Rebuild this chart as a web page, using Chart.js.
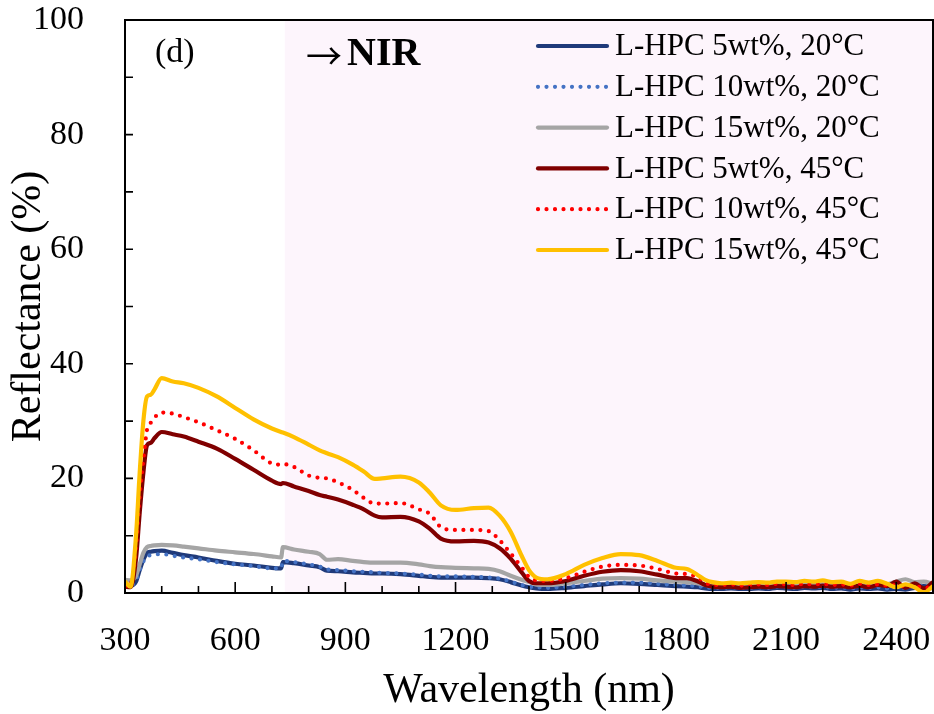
<!DOCTYPE html>
<html>
<head>
<meta charset="utf-8">
<script src="https://cdn.jsdelivr.net/npm/chart.js@4.4.1/dist/chart.umd.min.js"></script>
<style>
  body { margin: 0; background: #fff; }
  #wrap { width: 934px; height: 714px; }
</style>
</head>
<body>
<div id="wrap"><canvas id="reflChart" width="934" height="714"></canvas></div>
<script>
// wavelength grid (nm)
const wavelengths = [
  300, 315, 330, 340, 350, 360, 370, 380, 400, 430, 460, 500, 550, 600, 650, 700,
  725, 730, 760, 800, 830, 850, 880, 920, 950, 980, 1000, 1050, 1100, 1130, 1160, 1200,
  1250, 1290, 1320, 1350, 1380, 1400, 1420, 1450, 1500, 1550, 1600, 1650, 1700, 1750, 1800,
  1830, 1860, 1880, 1900, 1925, 1950, 1975, 2000, 2025, 2050, 2075, 2100, 2125, 2150, 2175,
  2200, 2225, 2250, 2275, 2300, 2325, 2350, 2375, 2400, 2425, 2450, 2475, 2500
];

// reflectance (%)
const hpc5_20 = [
  1.1, 1.2, 2.0, 4.0, 5.8, 7.0, 7.2, 7.3, 7.4, 7.0, 6.6, 6.2, 5.6, 5.1, 4.8, 4.4,
  4.3, 5.4, 5.2, 4.8, 4.5, 3.9, 3.8, 3.6, 3.5, 3.4, 3.4, 3.3, 3.0, 2.8, 2.7, 2.7,
  2.7, 2.6, 2.4, 1.9, 1.3, 1.0, 0.8, 0.7, 0.9, 1.2, 1.5, 1.7, 1.6, 1.4, 1.2,
  1.1, 1.0, 0.8, 0.7, 0.7, 0.8, 0.7, 0.7, 0.8, 0.7, 0.9, 0.8, 0.7, 0.9, 0.8,
  0.9, 0.7, 0.8, 0.6, 0.8, 0.7, 0.8, 0.6, 0.7, 0.6, 0.9, 1.2, 0.8
];
const hpc10_20 = [
  1.2, 1.3, 2.2, 4.0, 5.5, 6.4, 6.6, 6.7, 6.8, 6.5, 6.2, 5.9, 5.4, 5.0, 4.7, 4.3,
  4.3, 5.6, 5.4, 5.0, 4.6, 4.1, 4.0, 3.8, 3.7, 3.6, 3.5, 3.4, 3.2, 3.0, 2.9, 2.9,
  2.8, 2.7, 2.5, 2.0, 1.4, 1.1, 1.0, 0.9, 1.1, 1.4, 1.7, 1.8, 1.8, 1.6, 1.4,
  1.3, 1.2, 1.0, 0.9, 0.9, 1.0, 0.9, 0.9, 1.0, 0.9, 1.1, 1.0, 0.9, 1.1, 1.0,
  1.1, 0.9, 1.0, 0.8, 1.0, 0.9, 1.0, 0.8, 1.2, 0.9, 1.3, 1.6, 1.1
];
const hpc15_20 = [
  2.3, 2.2, 3.0, 5.0, 7.0, 8.0, 8.2, 8.3, 8.4, 8.3, 8.1, 7.8, 7.4, 7.1, 6.8, 6.4,
  6.2, 8.0, 7.6, 7.2, 6.8, 5.8, 5.9, 5.6, 5.4, 5.3, 5.3, 5.3, 5.0, 4.7, 4.5, 4.4,
  4.3, 4.2, 3.8, 3.0, 2.3, 1.9, 1.5, 1.4, 1.7, 2.1, 2.5, 2.6, 2.5, 2.2, 2.0,
  1.9, 1.7, 1.4, 1.3, 1.3, 1.4, 1.3, 1.3, 1.4, 1.3, 1.5, 1.4, 1.3, 1.5, 1.4,
  1.5, 1.3, 1.4, 1.2, 1.4, 1.3, 1.4, 1.5, 2.0, 2.4, 1.9, 2.0, 1.6
];
const hpc5_45 = [
  1.1, 1.0, 6.0, 14.0, 21.0, 25.8, 26.2, 27.0, 28.1, 27.7, 27.3, 26.4, 25.2, 23.4, 21.5, 19.6,
  19.0, 19.2, 18.6, 17.8, 17.1, 16.8, 16.3, 15.4, 14.6, 13.5, 13.2, 13.3, 12.5, 11.2, 9.5, 9.0,
  9.1, 8.8, 7.8, 6.0, 3.6, 2.1, 1.7, 1.7, 2.1, 3.0, 3.7, 4.0, 3.8, 3.2, 2.6,
  2.6, 2.0, 1.4, 1.1, 1.0, 1.1, 0.9, 1.0, 1.1, 1.0, 1.2, 1.1, 1.0, 1.2, 1.1,
  1.3, 1.1, 1.2, 1.0, 1.3, 1.0, 1.4, 1.2, 2.0, 0.9, 1.7, 0.8, 1.9
];
const hpc10_45 = [
  1.1, 1.5, 8.0, 17.0, 23.2, 28.5, 29.7, 30.6, 31.5, 31.3, 30.7, 29.8, 28.4, 26.9, 24.9, 22.6,
  22.4, 22.5, 22.0, 20.5, 20.1, 20.0, 19.3, 18.0, 16.6, 15.6, 15.6, 15.7, 14.6, 13.8, 11.5, 11.0,
  11.0, 10.8, 9.2, 6.9, 4.5, 2.8, 2.2, 2.1, 2.6, 3.7, 4.6, 4.9, 4.8, 4.2, 3.4,
  3.3, 2.7, 1.8, 1.4, 1.4, 1.5, 1.3, 1.4, 1.5, 1.4, 1.6, 1.5, 1.4, 1.6, 1.5,
  1.6, 1.4, 1.5, 1.3, 1.6, 1.4, 1.5, 1.3, 1.4, 1.1, 1.2, 0.9, 1.0
];
const hpc15_45 = [
  2.0, 1.1, 10.0, 21.0, 30.0, 34.3, 34.6, 35.5, 37.5, 36.9, 36.6, 35.8, 34.3, 32.3, 30.3, 28.7,
  28.1, 28.0, 27.2, 25.9, 24.9, 24.4, 23.7, 22.4, 21.2, 19.9, 20.0, 20.3, 19.3, 17.5, 15.3, 14.5,
  14.8, 14.9, 13.5, 10.7, 6.5, 4.0, 2.7, 2.4, 3.3, 4.9, 6.1, 6.8, 6.6, 5.6, 4.4,
  4.2, 3.1, 2.3, 1.9, 1.7, 1.8, 1.7, 1.8, 1.9, 1.8, 2.0, 2.0, 1.9, 2.1, 2.0,
  2.2, 1.9, 2.0, 1.6, 2.1, 1.8, 2.1, 1.6, 1.0, 1.5, 1.0, 0.1, 1.2
];

const seriesLabels = [
  'L-HPC 5wt%, 20°C', 'L-HPC 10wt%, 20°C', 'L-HPC 15wt%, 20°C',
  'L-HPC 5wt%, 45°C', 'L-HPC 10wt%, 45°C', 'L-HPC 15wt%, 45°C'
];
const seriesValues = [hpc5_20, hpc10_20, hpc15_20, hpc5_45, hpc10_45, hpc15_45];
const seriesColors = ['#1f3a7a', '#4472c4', '#a5a5a5', '#800000', '#ff0000', '#ffc000'];
const seriesDotted = [false, true, false, false, true, false];

const xTickLabels = [300, 600, 900, 1200, 1500, 1800, 2100, 2400];
const yTickLabels = [0, 20, 40, 60, 80, 100];
const nirStart = 735;

const SERIF = '"Liberation Serif", "Times New Roman", serif';

const datasets = seriesValues.map((vals, i) => ({
  label: seriesLabels[i],
  data: wavelengths.map((w, k) => ({ x: w, y: vals[k] })),
  borderColor: seriesColors[i],
  borderWidth: seriesDotted[i] ? 4.2 : 4.2,
  borderDash: seriesDotted[i] ? [0, 8.5] : [],
  borderCapStyle: 'round',
  borderJoinStyle: 'round',
  pointRadius: 0,
  cubicInterpolationMode: 'monotone',
  order: seriesValues.length - i   // later series on top
}));

// NIR band, frame, inward ticks, labels and legend
const decorPlugin = {
  id: 'decor',
  beforeDatasetsDraw(chart) {
    const { ctx, chartArea: a, scales: { x } } = chart;
    const x0 = x.getPixelForValue(nirStart);
    ctx.save();
    ctx.fillStyle = '#fdf5fc';
    ctx.fillRect(x0, a.top, a.right - x0, a.bottom - a.top);
    ctx.restore();
  },
  afterDatasetsDraw(chart) {
    const { ctx, chartArea: a, scales: { x, y } } = chart;
    ctx.save();
    ctx.strokeStyle = '#000';
    ctx.lineWidth = 2;
    ctx.strokeRect(a.left, a.top, a.right - a.left, a.bottom - a.top);

    ctx.lineWidth = 1.6;
    ctx.beginPath();
    x.ticks.forEach(t => {
      const px = x.getPixelForValue(t.value);
      const len = xTickLabels.includes(t.value) ? 11 : 7;
      ctx.moveTo(px, a.bottom);
      ctx.lineTo(px, a.bottom - len);
    });
    y.ticks.forEach(t => {
      const py = y.getPixelForValue(t.value);
      ctx.moveTo(a.left, py);
      ctx.lineTo(a.left + 8, py);
    });
    ctx.stroke();

    ctx.fillStyle = '#000';
    ctx.textBaseline = 'middle';
    ctx.textAlign = 'left';
    ctx.font = '34px ' + SERIF;
    ctx.fillText('(d)', a.left + 30, a.top + 33);
    ctx.font = '36px "Noto Sans CJK JP", ' + SERIF;
    ctx.fillText('→', a.left + 181, a.top + 36);
    ctx.font = 'bold 40px ' + SERIF;
    ctx.fillText('NIR', a.left + 222, a.top + 35);

    // legend
    const lx = a.left + 413, ly = a.top + 26, rowH = 40.8;
    ctx.font = '31px ' + SERIF;
    datasets.forEach((ds, i) => {
      const yy = ly + i * rowH;
      ctx.strokeStyle = ds.borderColor;
      ctx.lineWidth = ds.borderWidth;
      ctx.lineCap = 'round';
      ctx.setLineDash(ds.borderDash);
      ctx.beginPath();
      ctx.moveTo(lx, yy);
      ctx.lineTo(lx + 69, yy);
      ctx.stroke();
      ctx.setLineDash([]);
      ctx.fillText(ds.label, lx + 77, yy + 1);
    });
    ctx.restore();
  }
};

new Chart(document.getElementById('reflChart'), {
  type: 'line',
  data: { datasets },
  options: {
    responsive: false,
    animation: false,
    layout: { padding: { top: 20, right: 1, left: 0, bottom: 0 } },
    plugins: { legend: { display: false }, tooltip: { enabled: false } },
    scales: {
      x: {
        type: 'linear',
        min: 300,
        max: 2500,
        grid: { display: false },
        border: { display: false },
        ticks: {
          stepSize: 100,
          autoSkip: false,
          maxRotation: 0,
          padding: 20,
          color: '#000',
          font: { family: SERIF, size: 34 },
          callback: v => xTickLabels.includes(v) ? String(v) : ''
        },
        title: {
          display: true,
          text: 'Wavelength (nm)',
          color: '#000',
          font: { family: SERIF, size: 42, lineHeight: 1 },
          padding: { top: 0, bottom: 2 }
        },
        afterFit: s => { s.height = 121; s.paddingLeft = 0; s.paddingRight = 0; }
      },
      y: {
        min: 0,
        max: 100,
        grid: { display: false },
        border: { display: false },
        ticks: {
          stepSize: 10,
          padding: 33,
          color: '#000',
          font: { family: SERIF, size: 34 },
          callback: v => yTickLabels.includes(v) ? String(v) : ''
        },
        title: {
          display: true,
          text: 'Reflectance (%)',
          color: '#000',
          font: { family: SERIF, size: 42, lineHeight: 1 },
          padding: { top: 8, bottom: 0 }
        },
        afterFit: s => { s.width = 125; s.paddingTop = 0; s.paddingBottom = 0; }
      }
    }
  },
  plugins: [decorPlugin]
});
</script>
</body>
</html>
